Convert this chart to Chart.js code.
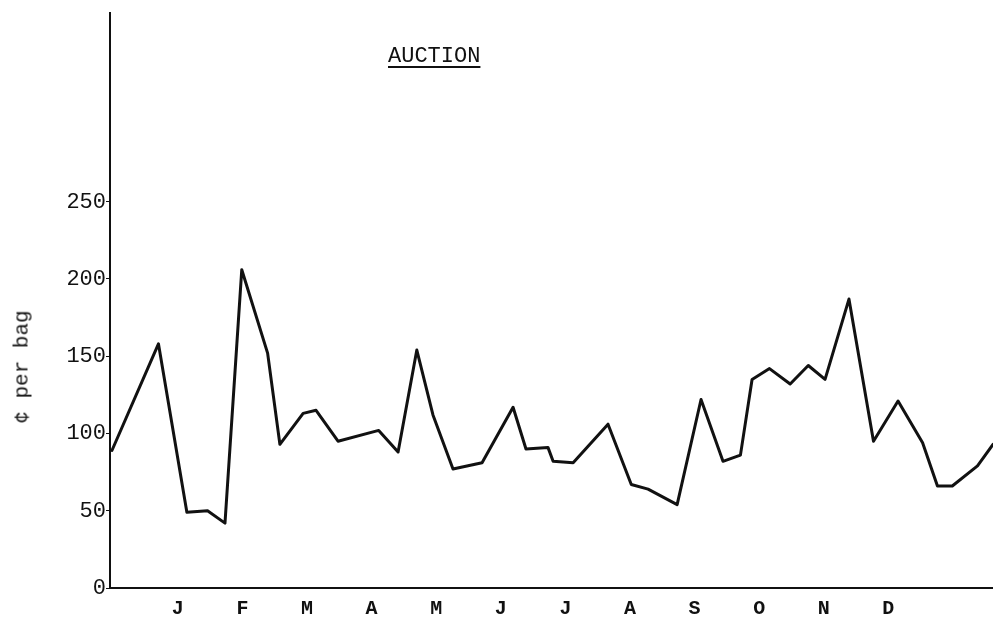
<!DOCTYPE html>
<html>
<head>
<meta charset="utf-8">
<script src="https://cdn.jsdelivr.net/npm/chart.js@4.4.1/dist/chart.umd.min.js"></script>
<style>
  html, body { margin: 0; padding: 0; background: #fff; }
  #wrap { position: relative; width: 993px; height: 619px; }
  #title {
    position: absolute; left: 388px; top: 45px;
    font-family: "Liberation Mono", "DejaVu Sans Mono", monospace;
    font-size: 22px; color: #111; line-height: 24px;
    text-decoration: underline; text-decoration-thickness: 2px; text-underline-offset: 4px;
  }
  #ytitle {
    position: absolute; left: 22px; top: 367px;
    transform: translate(-50%, -50%) rotate(-90deg);
    font-family: "Liberation Mono", "DejaVu Sans Mono", monospace;
    font-size: 21px; color: #111; white-space: nowrap;
  }
</style>
</head>
<body>
<div id="wrap">
  <canvas id="c"></canvas>
  <div id="title">AUCTION</div>
  <div id="ytitle">¢ per bag</div>
</div>
<script>
// Month tick labels (placed at month positions 1..12)
const monthLabels = ["J","F","M","A","M","J","J","A","S","O","N","D"];
const monthTickPositions = [1,2,3,4,5,6,7,8,9,10,11,12];
const yTickValues = [0, 50, 100, 150, 200, 250];

// Observation positions along the year (in month units) and prices (cents per bag)
const obsPosition = [
  -0.02, 0.70, 1.14, 1.46, 1.73, 1.99, 2.39, 2.58, 2.94, 3.14,
  3.48, 4.11, 4.41, 4.70, 4.95, 5.26, 5.71, 6.19, 6.39, 6.73,
  6.81, 7.12, 7.66, 8.02, 8.28, 8.73, 9.10, 9.44, 9.71, 9.89,
  10.16, 10.48, 10.76, 11.02, 11.39, 11.77, 12.15, 12.53, 12.76, 12.99,
  13.38, 13.62
];
const auctionPrice = [
  89, 158, 49, 50, 42, 206, 152, 93, 113, 115,
  95, 102, 88, 154, 112, 77, 81, 117, 90, 91,
  82, 81, 106, 67, 64, 54, 122, 82, 86, 135,
  142, 132, 144, 135, 187, 95, 121, 94, 66, 66,
  79, 93
];

const points = obsPosition.map((x, i) => ({ x: x, y: auctionPrice[i] }));
const monoFont = "'Liberation Mono', 'DejaVu Sans Mono', monospace";

new Chart(document.getElementById('c'), {
  type: 'line',
  data: {
    datasets: [{
      data: points,
      borderColor: '#111',
      borderWidth: 3,
      borderJoinStyle: 'round',
      borderCapStyle: 'round',
      pointRadius: 0,
      tension: 0,
      fill: false,
      clip: false
    }]
  },
  options: {
    responsive: true,
    maintainAspectRatio: false,
    animation: false,
    layout: { padding: { top: 10, right: 0, left: 0, bottom: 0 } },
    plugins: { legend: { display: false }, tooltip: { enabled: false }, title: { display: false } },
    scales: {
      x: {
        type: 'linear',
        min: -0.05,
        max: 13.62,
        grid: { display: false, drawTicks: false },
        border: { display: true, color: '#111', width: 2 },
        afterBuildTicks: (scale) => { scale.ticks = monthTickPositions.map(v => ({ value: v })); },
        afterFit: (scale) => { scale.height = 31; },
        ticks: {
          autoSkip: false, maxRotation: 0, minRotation: 0,
          padding: 9,
          color: '#111',
          font: { family: monoFont, size: 20, weight: 'bold' },
          callback: (value, index) => monthLabels[index]
        }
      },
      y: {
        type: 'linear',
        min: 0,
        max: 372,
        grid: { drawOnChartArea: false, drawTicks: true, tickLength: 4, color: '#111', lineWidth: 1 },
        border: { display: true, color: '#111', width: 2 },
        afterBuildTicks: (scale) => { scale.ticks = yTickValues.map(v => ({ value: v })); },
        afterFit: (scale) => { scale.width = 110; },
        ticks: {
          padding: 0,
          color: '#111',
          font: { family: monoFont, size: 22 },
          callback: (value) => String(value)
        }
      }
    }
  }
});
</script>
</body>
</html>
